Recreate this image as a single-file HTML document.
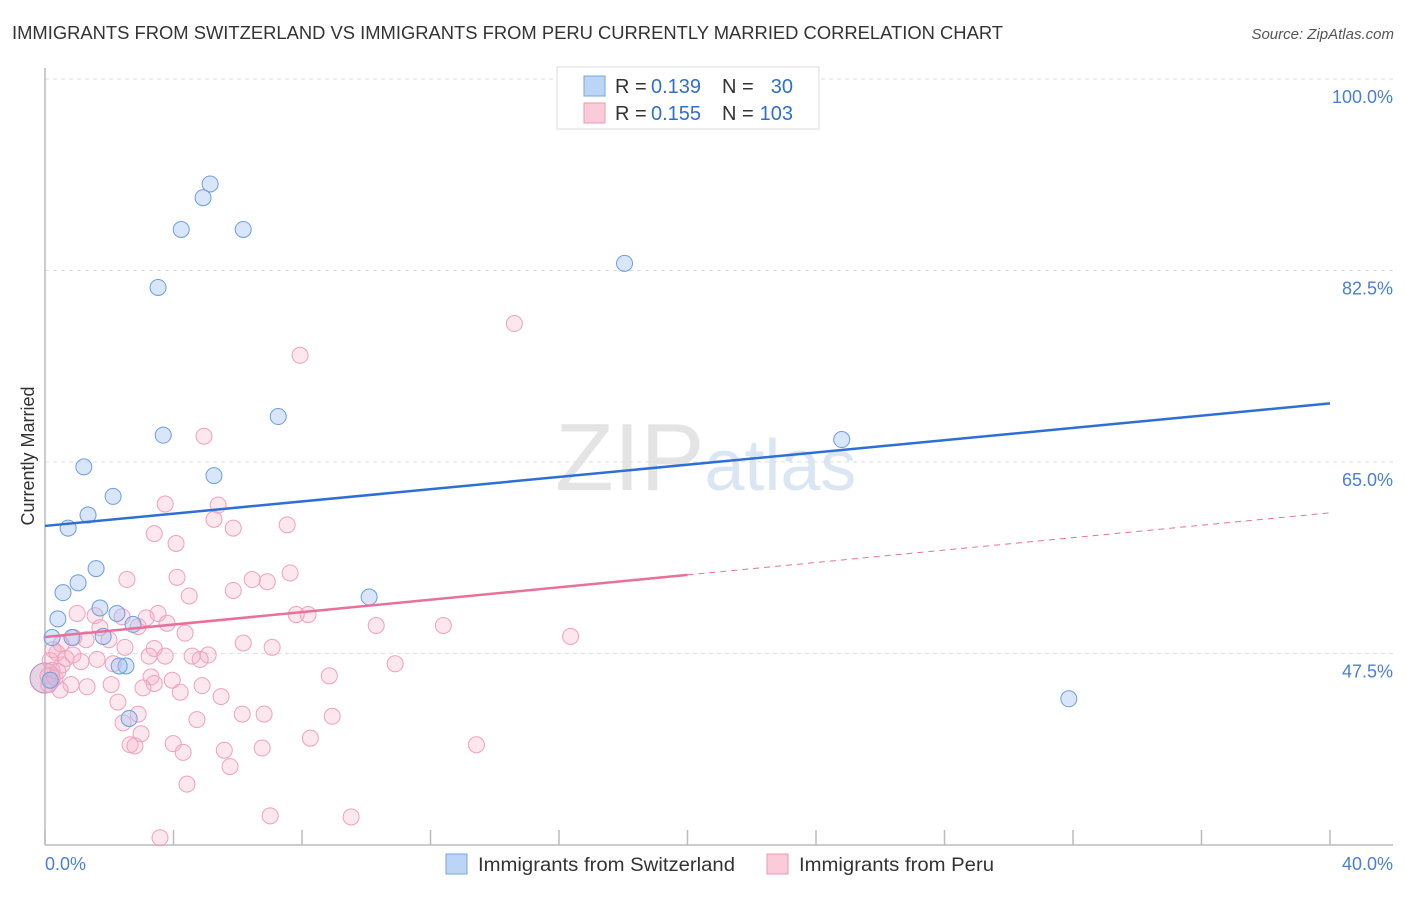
<!DOCTYPE html>
<html><head><meta charset="utf-8"><style>
body{margin:0;background:#fff;font-family:"Liberation Sans",sans-serif;}
svg text{font-family:"Liberation Sans",sans-serif;}
</style></head><body>
<svg id="chart" width="1406" height="892" xmlns="http://www.w3.org/2000/svg">
<text x="12" y="39" font-size="18" fill="#333" textLength="991" lengthAdjust="spacingAndGlyphs">IMMIGRANTS FROM SWITZERLAND VS IMMIGRANTS FROM PERU CURRENTLY MARRIED CORRELATION CHART</text>
<text x="1394" y="39" font-size="15" font-style="italic" fill="#555" text-anchor="end">Source: ZipAtlas.com</text>
<text x="555" y="490" font-size="96" font-family="Liberation Serif" fill="#e4e4e4">ZIP<tspan fill="#dbe6f5" font-family="Liberation Sans" font-size="72">atlas</tspan></text>
<g id="grid"></g>
<line x1="45" y1="68" x2="45" y2="845" stroke="#bbb" stroke-width="1.5"/>
<line x1="45" y1="845" x2="1393" y2="845" stroke="#bbb" stroke-width="1.5"/>
<g id="xticks"></g>
<text transform="translate(34,456) rotate(-90)" font-size="18" fill="#333" text-anchor="middle">Currently Married</text>
<text x="45" y="870" font-size="18" fill="#4a7fd4">0.0%</text>
<text x="1393" y="870" font-size="18" fill="#4a7fd4" text-anchor="end">40.0%</text>
<g id="points"></g>
<g id="lines"></g>
<g>
<rect x="557" y="67" width="262" height="62" fill="#fff" stroke="#ddd"/>
<rect x="584" y="76" width="21" height="20" fill="#bcd4f6" stroke="#7aa6e3"/>
<rect x="584" y="103" width="21" height="20" fill="#fbcbd9" stroke="#ee9ab6"/>
<text x="615" y="93" font-size="20" fill="#333">R =</text>
<text x="651" y="93" font-size="20" fill="#2f6fd0">0.139</text>
<text x="722" y="93" font-size="20" fill="#333">N =</text>
<text x="793" y="93" font-size="20" fill="#2f6fd0" text-anchor="end">30</text>
<text x="615" y="120" font-size="20" fill="#333">R =</text>
<text x="651" y="120" font-size="20" fill="#2f6fd0">0.155</text>
<text x="722" y="120" font-size="20" fill="#333">N =</text>
<text x="793" y="120" font-size="20" fill="#2f6fd0" text-anchor="end">103</text>
</g>
<g>
<rect x="446" y="854" width="21" height="20" fill="#bcd4f6" stroke="#7aa6e3"/>
<text x="478" y="871" font-size="19" fill="#333" textLength="257" lengthAdjust="spacingAndGlyphs">Immigrants from Switzerland</text>
<rect x="767" y="854" width="21" height="20" fill="#fbcbd9" stroke="#ee9ab6"/>
<text x="799" y="871" font-size="19" fill="#333" textLength="195" lengthAdjust="spacingAndGlyphs">Immigrants from Peru</text>
</g>
</svg>
<script>
const yTicks=[100,82.5,65,47.5];
const yTickLabels=["100.0%","82.5%","65.0%","47.5%"];
const xTicks=[0,4,8,12,16,20,24,28,32,36,40];
const swissX=[5.14,4.92,4.24,6.17,18.04,3.52,7.26,3.68,24.8,1.21,5.26,2.12,1.34,0.72,1.59,1.03,0.56,1.71,2.24,0.40,2.74,0.22,0.84,1.81,2.52,2.31,10.09,31.87,2.62,0.16];
const swissY=[91.96,90.7,87.8,87.8,84.7,82.5,70.7,69.0,68.6,66.1,65.3,63.4,61.7,60.5,56.8,55.5,54.6,53.2,52.7,52.2,51.7,50.5,50.5,50.6,47.9,47.9,54.2,44.9,43.1,46.6];
const peruX=[14.61,7.94,4.95,3.74,5.39,5.26,7.54,5.86,3.40,4.08,7.63,2.55,4.11,6.45,6.92,5.86,4.49,7.82,8.19,3.52,3.15,1.0,1.56,2.40,3.80,2.90,1.71,10.31,12.4,4.36,16.36,6.17,7.07,0.90,1.28,1.99,0.50,2.49,3.40,5.08,4.58,4.83,3.24,3.74,1.62,1.12,2.12,0.53,10.90,0.37,8.85,3.30,3.96,3.40,4.89,2.06,0.81,1.31,3.05,4.21,5.48,2.27,2.90,6.14,6.82,4.73,8.94,2.43,2.99,8.26,3.99,2.65,2.80,4.30,5.58,6.76,13.43,5.76,4.42,7.01,9.53,3.58,0.16,0.22,0.09,0.31,0.40,0.12,0.25,0.65,0.47,0.87];
const peruY=[79.2,76.3,68.9,62.7,62.6,61.3,60.8,60.5,60.0,59.1,56.4,55.8,56.0,55.8,55.6,54.8,54.3,52.6,52.6,52.7,52.3,52.7,52.5,52.4,51.8,51.5,51.4,51.6,51.6,50.9,50.6,50.0,49.6,50.5,50.3,50.3,49.9,49.6,49.5,48.9,48.8,48.5,48.8,48.8,48.5,48.3,48.1,48.0,48.1,49.1,47.0,46.9,46.6,46.3,46.1,46.2,46.2,46.0,45.9,45.5,45.1,44.6,43.5,43.5,43.5,43.0,43.3,42.7,41.7,41.3,40.8,40.7,40.6,40.0,40.2,40.4,40.7,38.7,37.1,34.2,34.1,32.2,48.4,47.5,47.0,46.8,47.4,46.2,49.4,48.6,45.7,48.9];
const swissTrend=[60.7,71.9];
const peruTrend=[50.55,61.9];
const peruSolidEnd=20;

const NS="http://www.w3.org/2000/svg";
function xs(v){return 45+v*32.125;}
function ys(v){return 96+(100-v)*10.94;}
function mk(tag,attrs,parent){const e=document.createElementNS(NS,tag);for(const k in attrs)e.setAttribute(k,attrs[k]);parent.appendChild(e);return e;}
const grid=document.getElementById('grid');
yTicks.forEach((t,i)=>{
  const y=ys(t)-17;
  const l=mk('line',{x1:45,x2:1393,y1:y,y2:y,stroke:'#ddd','stroke-dasharray':'4,4'},grid);
  
  
  const tx=mk('text',{x:1393,y:ys(t)+7,'font-size':18,fill:'#4a7fd4','text-anchor':'end'},grid);
  tx.textContent=yTickLabels[i];
  
  
});
const xt=document.getElementById('xticks');
xTicks.forEach(t=>{
  const l=mk('line',{x1:xs(t),x2:xs(t),y1:830,y2:845,stroke:'#bbb','stroke-width':1.5},xt);
  
  
});
const pts=document.getElementById('points');
const big1=mk('circle',{cx:xs(0),cy:ys(46.8),r:15,fill:'rgba(200,160,200,0.45)',stroke:'#b88ab8','stroke-width':1},pts);


peruX.forEach((x,i)=>{
  const c=mk('circle',{cx:xs(x),cy:ys(peruY[i]),r:8,fill:'rgba(246,175,200,0.3)',stroke:'#f0a0bc','stroke-width':1},pts);
  
  
});
swissX.forEach((x,i)=>{
  const c=mk('circle',{cx:xs(x),cy:ys(swissY[i]),r:8,fill:'rgba(160,192,240,0.4)',stroke:'#6b9ee0','stroke-width':1},pts);
  
  
});
const ln=document.getElementById('lines');
const b=mk('line',{x1:xs(0),y1:ys(swissTrend[0]),x2:xs(40),y2:ys(swissTrend[1]),stroke:'#2d6fd4','stroke-width':2.5},ln);


const pm=peruTrend[0]+(peruTrend[1]-peruTrend[0])*peruSolidEnd/40;
const p1=mk('line',{x1:xs(0),y1:ys(peruTrend[0]),x2:xs(peruSolidEnd),y2:ys(pm),stroke:'#e8709a','stroke-width':2.5},ln);


const p2=mk('line',{x1:xs(peruSolidEnd),y1:ys(pm),x2:xs(40),y2:ys(peruTrend[1]),stroke:'#e8709a','stroke-width':1,'stroke-dasharray':'6,5'},ln);


</script>
</body></html>
